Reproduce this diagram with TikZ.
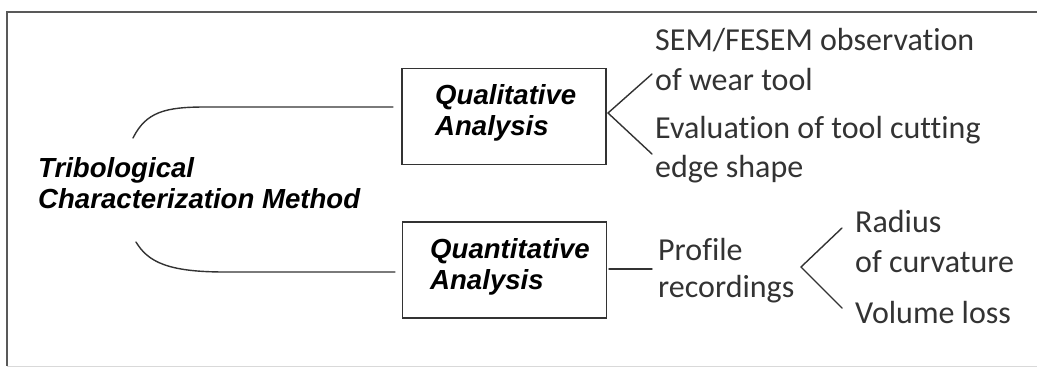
\documentclass[tikz,border=0pt]{standalone}
\usepackage{fontspec}
\setmainfont{Liberation Sans}
\newfontfamily\calfont[Ligatures=NoCommon]{Carlito}
\tikzset{
  boxed/.style={draw=black!80, line width=1.3pt, rectangle, minimum width=204pt, minimum height=96pt, inner sep=0pt},
  boldit/.style={font=\fontsize{27.6}{31}\selectfont\bfseries\itshape, text=black, inner sep=0pt, anchor=base west},
  plain/.style={font=\calfont\fontsize{32}{40}\selectfont, text=black!80, inner sep=0pt, anchor=base west},
  conn/.style={draw=black!80, line width=1.4pt, line cap=round},
  frameline/.style={draw=black!65, line width=1.6pt}
}
\begin{document}
\begin{tikzpicture}[x=1pt,y=-1pt]
\useasboundingbox (0,0) rectangle (1037,368);
% frame
\draw[frameline] (1037,12) -- (7,12) -- (7,366);
\draw[draw=black!15, line width=1pt] (7,366) -- (1037,366);

% left title
\node[boldit] (tribo1) at (38,177) {Tribological};
\node[boldit] (tribo2) at (38,208) {Characterization Method};

% boxes
\node[boxed] (qual) at (504,116.5) {};
\node[boldit] (qualt1) at (435,104) {Qualitative};
\node[boldit] (qualt2) at (435,135) {Analysis};
\node[boxed] (quant) at (504.5,270) {};
\node[boldit] (quantt1) at (430,258) {Quantitative};
\node[boldit] (quantt2) at (430,289) {Analysis};

% right texts
\node[plain] (sem1) at (655,50) {SEM/FESEM observation};
\node[plain] (sem2) at (655,90) {of wear tool};
\node[plain] (eva1) at (655,138) {Evaluation of tool cutting};
\node[plain] (eva2) at (655,177) {edge shape};
\node[plain] (prof1) at (658,260) {Profile};
\node[plain] (prof2) at (658,297) {recordings};
\node[plain] (rad1) at (855,232) {Radius};
\node[plain] (rad2) at (855,272) {of curvature};
\node[plain] (vol) at (855,323) {Volume loss};

% connector end points
\coordinate (u0) at (133,138);
\coordinate (u1) at (393,107);
\coordinate (l0) at (136,242);
\coordinate (l1) at (395,272);
\coordinate (qv) at (608,113);
\coordinate (qa) at (652,74);
\coordinate (qb) at (652,154);
\coordinate (pa) at (609,269);
\coordinate (pb) at (652,269);
\coordinate (fv) at (801,267);
\coordinate (fa) at (842,228);
\coordinate (fb) at (842,308);

% connectors
\draw[conn] (u0) .. controls (146,112) and (165,107) .. (205,107) -- (u1);
\draw[conn] (l0) .. controls (148,262) and (168,272) .. (225,272) -- (l1);
\draw[conn] (qa) -- (qv) -- (qb);
\draw[conn] (pa) -- (pb);
\draw[conn] (fa) -- (fv) -- (fb);
\end{tikzpicture}
\end{document}
